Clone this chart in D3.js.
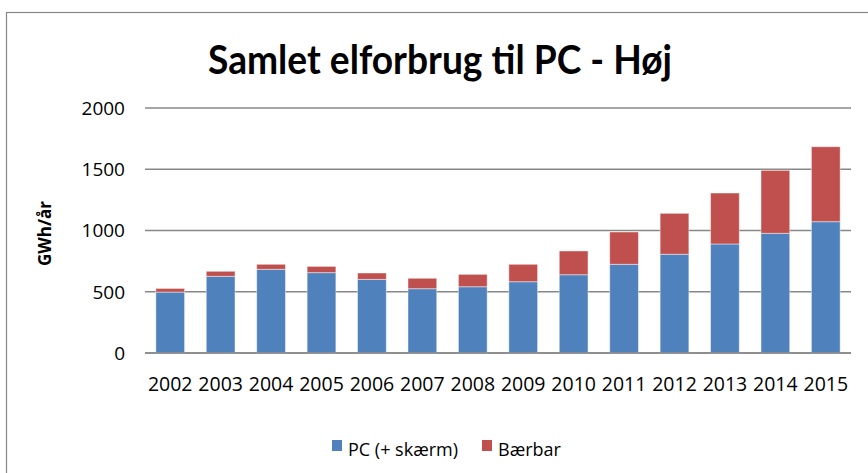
<!DOCTYPE html>
<html>
<head>
<meta charset="utf-8">
<script src="https://cdn.jsdelivr.net/npm/d3@7"></script>
<style>
  body { margin: 0; background: #fff; }
  svg text { fill: #000; }
</style>
</head>
<body>
<div id="chart"></div>
<script>
// data
const years = ["2002", "2003", "2004", "2005", "2006", "2007", "2008", "2009", "2010", "2011", "2012", "2013", "2014", "2015"];
const pc = [497, 626, 683, 656, 601, 525, 541, 582, 639, 724, 806, 890, 977, 1072];
const baerbar = [30, 41, 41, 51, 52, 85, 101, 142, 194, 264, 334, 416, 514, 612];
const yTicks = [0, 500, 1000, 1500, 2000];
const seriesNames = ["PC (+ skærm)", "Bærbar"];
const colors = ["#4F81BD", "#C0504D"];

const width = 868, height = 473;
const margin = { top: 108, right: 17, bottom: 120, left: 145 };
const font = "'Open Sans', sans-serif";

const svg = d3.select("#chart")
  .append("svg")
    .attr("width", width)
    .attr("height", height)
    .style("font-family", font);

// outer chart border (runs off the right and bottom edges)
svg.append("rect")
  .attr("x", 6.5).attr("y", 12.5)
  .attr("width", width + 20).attr("height", height + 20)
  .attr("fill", "none")
  .attr("stroke", "#868686")
  .attr("stroke-width", 1.2);

const table = years.map((y, i) => ({ year: y, pc: pc[i], baerbar: baerbar[i] }));
const stack = d3.stack().keys(["pc", "baerbar"])(table);

const x = d3.scaleBand()
  .domain(years)
  .range([margin.left, width - margin.right])
  .paddingInner(0.43)
  .paddingOuter(0.215);

const y = d3.scaleLinear()
  .domain([0, 2000])
  .range([height - margin.bottom, margin.top]);

// gridlines
svg.append("g")
  .selectAll("line")
  .data(yTicks)
  .join("line")
    .attr("x1", margin.left)
    .attr("x2", width - margin.right)
    .attr("y1", d => y(d))
    .attr("y2", d => y(d))
    .attr("stroke", "#878787")
    .attr("stroke-width", 1.5);

// y axis labels
const yAxis = d3.axisLeft(y).tickValues(yTicks).tickFormat(d3.format("d")).tickSize(0).tickPadding(20);
svg.append("g")
  .attr("transform", `translate(${margin.left}, 0)`)
  .call(yAxis)
  .call(g => g.select(".domain").remove())
  .call(g => g.selectAll("text")
    .style("font-family", font)
    .style("font-size", "19px")
    .attr("dy", "0.34em"));

// stacked bars
svg.append("g")
  .selectAll("g")
  .data(stack)
  .join("g")
    .attr("fill", (d, i) => colors[i])
  .selectAll("rect")
  .data(d => d)
  .join("rect")
    .attr("x", d => x(d.data.year))
    .attr("y", d => y(d[1]))
    .attr("width", x.bandwidth())
    .attr("height", d => y(d[0]) - y(d[1]))
    .attr("stroke", "rgba(255,255,255,0.45)")
    .attr("stroke-width", 1);

// x axis
const xAxis = d3.axisBottom(x).tickSize(0).tickPadding(24);
svg.append("g")
  .attr("transform", `translate(0, ${y(0)})`)
  .call(xAxis)
  .call(g => g.select(".domain").remove())
  .call(g => g.selectAll("text")
    .style("font-family", font)
    .style("font-size", "19.5px"));

// redraw baseline on top of bars
svg.append("line")
  .attr("x1", margin.left)
  .attr("x2", width - margin.right)
  .attr("y1", y(0))
  .attr("y2", y(0))
  .attr("stroke", "#878787")
  .attr("stroke-width", 1.5);

// y axis title
svg.append("text")
  .attr("transform", `translate(51, ${(y(0) + y(2000)) / 2 + 3}) rotate(-90)`)
  .attr("text-anchor", "middle")
  .style("font-size", "17px")
  .style("font-weight", "bold")
  .text("GWh/år");

// chart title
svg.append("text")
  .attr("x", 208)
  .attr("y", 74)
  .style("font-family", "Lato, sans-serif")
  .style("font-size", "40px")
  .style("font-weight", "bold")
  .attr("textLength", 464)
  .attr("lengthAdjust", "spacingAndGlyphs")
  .text("Samlet elforbrug til PC - Høj");

// legend
const legendX = [332, 482];
const legend = svg.append("g")
  .selectAll("g")
  .data(seriesNames)
  .join("g")
    .attr("transform", (d, i) => `translate(${legendX[i]}, 440)`);

legend.append("rect")
  .attr("width", 10)
  .attr("height", 11)
  .attr("fill", (d, i) => colors[i]);

legend.append("text")
  .attr("x", 16)
  .attr("y", 16)
  .style("font-size", "18px")
  .text(d => d);
</script>
</body>
</html>
